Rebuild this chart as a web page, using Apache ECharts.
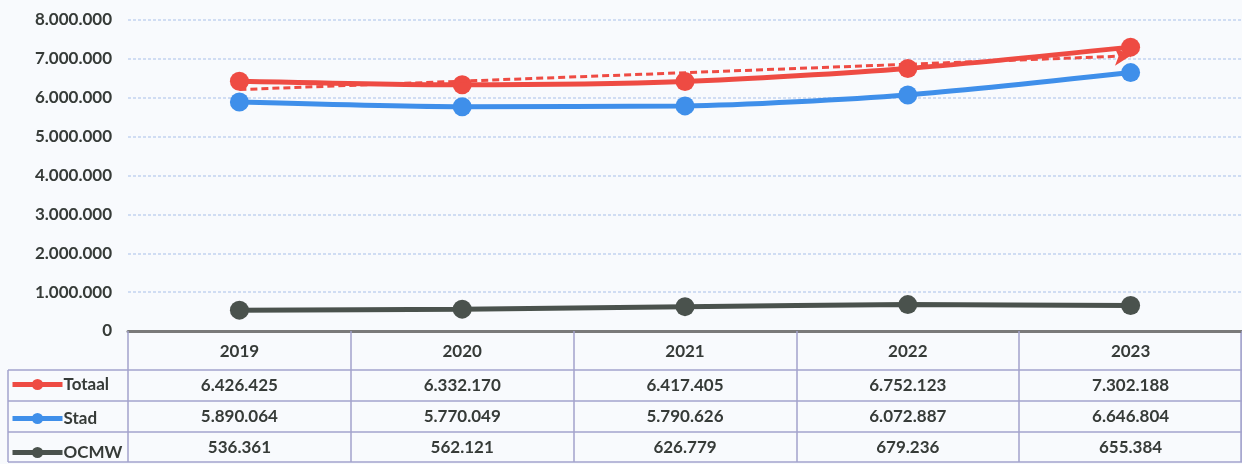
<!DOCTYPE html>
<html>
<head>
<meta charset="utf-8">
<script src="https://cdn.jsdelivr.net/npm/echarts@6/dist/echarts.min.js"></script>
<style>
  html, body { margin: 0; padding: 0; background: #f8fafd; }
  #chart { width: 1242px; height: 464px; }
</style>
</head>
<body>
<div id="chart"></div>
<script>
var years = ['2019', '2020', '2021', '2022', '2023'];
var totaal = [6426425, 6332170, 6417405, 6752123, 7302188];
var stad = [5890064, 5770049, 5790626, 6072887, 6646804];
var ocmw = [536361, 562121, 626779, 679236, 655384];
var trendStart = 6210000;
var trendEnd = 7080000;

function fmt(v) {
  return String(v).replace(/\B(?=(\d{3})+(?!\d))/g, '.');
}

var font = 'Lato, "Liberation Sans", sans-serif';
var txt = '#363b38';
var tableLine = '#a3a3cc';

var myChart = echarts.init(document.getElementById('chart'));

function rowAxis(values, offset) {
  return {
    type: 'category',
    data: values.map(fmt),
    position: 'bottom',
    offset: offset,
    axisLine: { show: false },
    axisTick: { show: false },
    axisLabel: { interval: 0, margin: 8, fontFamily: font, fontSize: 17, fontWeight: 'bold', color: txt }
  };
}

var option = {
  backgroundColor: '#f8fafd',
  animation: false,
  grid: { left: 128, right: 0, top: 20, bottom: 133 },
  legend: {
    orient: 'vertical',
    left: 10,
    top: 376,
    height: 110,
    padding: 0,
    itemGap: 17,
    itemWidth: 50,
    itemHeight: 14,
    lineStyle: { width: 5 },
    textStyle: { fontFamily: font, fontSize: 17, fontWeight: 'bold', color: txt, padding: [0, 0, 0, -4] },
    data: ['Totaal', 'Stad', 'OCMW']
  },
  xAxis: [
    {
      type: 'category',
      data: years,
      boundaryGap: true,
      axisLine: { lineStyle: { color: '#7a7a7a', width: 3 } },
      axisTick: { show: true, length: 131, lineStyle: { color: tableLine, width: 1.5 } },
      axisLabel: { margin: 12, fontFamily: font, fontSize: 17, fontWeight: 'bold', color: txt }
    },
    rowAxis(totaal, 38),
    rowAxis(stad, 69),
    rowAxis(ocmw, 100)
  ],
  yAxis: {
    type: 'value',
    min: 0,
    max: 8000000,
    interval: 1000000,
    axisLine: { show: false },
    axisTick: { show: false },
    splitLine: { lineStyle: { color: '#c2d3ef', width: 1.5, type: [3, 2] } },
    axisLabel: { margin: 16, fontFamily: font, fontSize: 17, fontWeight: 'bold', color: txt, formatter: fmt }
  },
  series: [
    {
      name: 'Totaal',
      type: 'line',
      data: totaal,
      smooth: 0.25,
      symbol: 'circle',
      symbolSize: 19,
      color: '#ee4b43',
      lineStyle: { width: 5 },
      z: 4,
      markLine: {
        silent: true,
        symbol: ['none', 'arrow'],
        symbolSize: [14, 16],
        label: { show: false },
        lineStyle: { color: '#ee4b43', width: 3, type: [7, 4] },
        data: [[{ coord: [0, trendStart] }, { coord: [4, trendEnd] }]]
      }
    },
    {
      name: 'Stad',
      type: 'line',
      data: stad,
      smooth: 0.25,
      symbol: 'circle',
      symbolSize: 19,
      color: '#3f8fea',
      lineStyle: { width: 5 },
      z: 3
    },
    {
      name: 'OCMW',
      type: 'line',
      data: ocmw,
      smooth: 0.25,
      symbol: 'circle',
      symbolSize: 19,
      color: '#4a524d',
      lineStyle: { width: 5 },
      z: 3
    }
  ],
  graphic: [
    // tabelranden
    { type: 'line', shape: { x1: 8, y1: 370, x2: 1242, y2: 370 }, style: { stroke: tableLine, lineWidth: 1.5 } },
    { type: 'line', shape: { x1: 8, y1: 401, x2: 1242, y2: 401 }, style: { stroke: tableLine, lineWidth: 1.5 } },
    { type: 'line', shape: { x1: 8, y1: 432, x2: 1242, y2: 432 }, style: { stroke: tableLine, lineWidth: 1.5 } },
    { type: 'line', shape: { x1: 8, y1: 462, x2: 1242, y2: 462 }, style: { stroke: tableLine, lineWidth: 1.5 } },
    { type: 'line', shape: { x1: 8, y1: 370, x2: 8, y2: 462 }, style: { stroke: tableLine, lineWidth: 1.5 } },
    { type: 'line', shape: { x1: 1241, y1: 331, x2: 1241, y2: 462 }, style: { stroke: tableLine, lineWidth: 1.5 } }
  ]
};
myChart.setOption(option);
</script>
</body>
</html>
